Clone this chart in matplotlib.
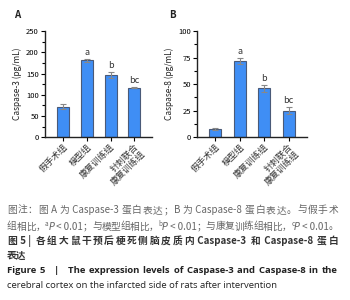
"""Caspase-3 / Caspase-8 levels per group, two bar panels plus caption"""

import re
import matplotlib
matplotlib.use("Agg")
import matplotlib.pyplot as plt
from matplotlib.ticker import MultipleLocator

plt.rcParams["font.family"] = ["Noto Sans CJK SC", "DejaVu Sans"]

# Data
groups = ["假手术组", "模型组", "康复训练组", "针刺联合\n康复训练组"]
casp3 = [72, 181, 146, 117]
casp3_err = [5, 4, 7, 2]
casp8 = [8, 72, 46, 25]
casp8_err = [1, 3, 3, 3]
marks = ["", "a", "b", "bc"]

bar_color = "#3f8ef5"
edge_color = "#4a5a78"

fig = plt.figure(figsize=(3.5, 3.0), dpi=100)


def panel(rect, vals, errs, ymax, major, ylabel, letter, lx):
    ax = fig.add_axes(rect)
    x = range(len(vals))
    ax.bar(x, vals, width=0.5, color=bar_color, edgecolor=edge_color, linewidth=0.8,
           yerr=errs, error_kw=dict(ecolor="#888888", elinewidth=0.8, capsize=2, capthick=0.8))
    for i, (v, e, m) in enumerate(zip(vals, errs, marks)):
        if m:
            ax.text(i, v + e + ymax * 0.02, m, ha="center", va="bottom", fontsize=6.5,
                    color="#333333")
    ax.set_xlim(-0.75, len(vals) - 0.25)
    ax.set_ylim(0, ymax)
    ax.yaxis.set_major_locator(MultipleLocator(major))
    ax.yaxis.set_minor_locator(MultipleLocator(major / 2))
    for s in ["top", "right"]:
        ax.spines[s].set_visible(False)
    for s in ["left", "bottom"]:
        ax.spines[s].set_linewidth(1.0)
        ax.spines[s].set_color("#222222")
    ax.tick_params(axis="y", which="major", length=3, width=0.8, labelsize=5.5, pad=1.5)
    ax.tick_params(axis="y", which="minor", length=2, width=0.8)
    ax.tick_params(axis="x", length=3, width=0.8, pad=1)
    ax.set_xticks(list(x))
    ax.set_xticklabels(groups, rotation=45, ha="right", rotation_mode="anchor",
                       fontsize=6.4, color="#333333", linespacing=1.1)
    ax.set_ylabel(ylabel, fontsize=6, labelpad=3, color="#222222")
    fig.text(lx, 0.94, letter, fontsize=7, fontweight="bold", color="#222222")
    return ax


panel([0.129, 0.543, 0.306, 0.353], casp3, casp3_err, 250, 50, "Caspase-3 (pg/mL)", "A", 0.04)
panel([0.563, 0.543, 0.314, 0.353], casp8, casp8_err, 100, 25, "Caspase-8 (pg/mL)", "B", 0.483)

# Caption: each line is split into units and spread out to a justified width
renderer = fig.canvas.get_renderer()
X0, X1 = 0.02, 0.966


def split_units(txt, by_word=False):
    if by_word:
        return re.findall(r"\S+\s*", txt)
    return re.findall(r"[\u3000-\u9fff\uff00-\uffef]|[^\u3000-\u9fff\uff00-\uffef]+", txt)


def line(y, parts, justify=True, by_word=False):
    items = []
    for txt, kw in parts:
        kw = dict(kw)
        dy = kw.pop("dy", 0)
        units = split_units(txt, by_word) if justify else [txt]
        for u in units:
            t = fig.text(0, y + dy, u, va="baseline", **kw)
            w = t.get_window_extent(renderer).width / fig.bbox.width
            items.append((t, w))
    total = sum(w for _, w in items)
    gap = (X1 - X0 - total) / (len(items) - 1) if justify and len(items) > 1 else 0
    x = X0
    for t, w in items:
        t.set_x(x)
        x += w + gap


grey = dict(fontsize=7.0, color="#666666")
sup = dict(fontsize=4.6, color="#666666", dy=0.012)
ital = dict(fontsize=7.0, color="#666666", style="italic", family="DejaVu Sans")
bold = dict(fontsize=7.0, color="#333333", fontweight="bold")
en = dict(fontsize=6.8, color="#222222", family="Open Sans")

line(0.29, [("图注：图 A 为 Caspase-3 蛋白表达；B 为 Caspase-8 蛋白表达。与假手术", grey)])
line(0.235, [("组相比，", grey), ("a", sup), ("P", ital), (" < 0.01；与模型组相比，", grey),
             ("b", sup), ("P", ital), (" < 0.01；与康复训练组相比，", grey),
             ("c", sup), ("P", ital), (" < 0.01。", grey)])
line(0.188, [("图 5 | 各组大鼠干预后梗死侧脑皮质内 Caspase-3 和 Caspase-8 蛋白", bold)])
line(0.138, [("表达", bold)], justify=False)
line(0.09, [("Figure 5   |   The expression levels of Caspase-3 and Caspase-8 in the",
             dict(en, fontweight="bold"))], by_word=True)
line(0.04, [("cerebral cortex on the infarcted side of rats after intervention", en)],
     justify=False)

fig.savefig("out.png", dpi=100)
